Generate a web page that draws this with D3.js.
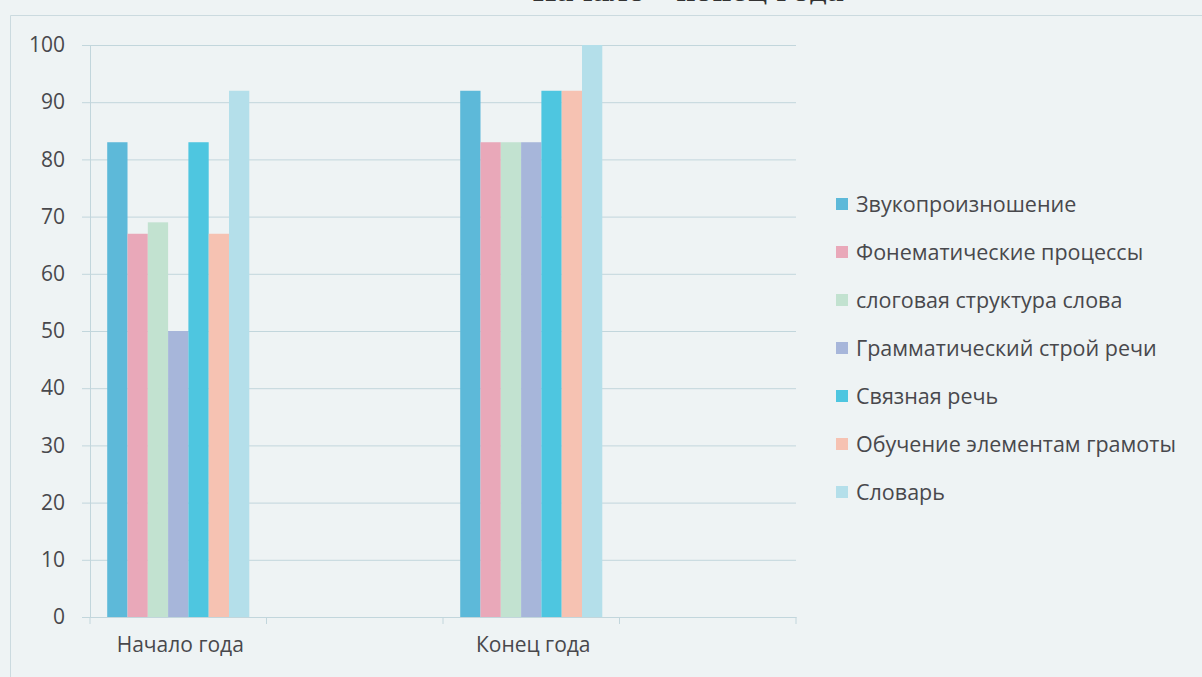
<!DOCTYPE html>
<html><head><meta charset="utf-8">
<script src="https://cdn.jsdelivr.net/npm/d3@7"></script>
<style>
html,body{margin:0;padding:0;background:#eef3f4;}
svg{display:block;}
</style></head>
<body>
<svg id="chart" width="1202" height="677"></svg>
<script>
const categories = ["Начало года", "", "Конец года", ""];
const seriesNames = ["Звукопроизношение", "Фонематические процессы", "слоговая структура слова",
  "Грамматический строй речи", "Связная речь", "Обучение элементам грамоты", "Словарь"];
const startValues = [83, 67, 69, 50, 83, 67, 92];
const endValues = [92, 83, 83, 83, 92, 92, 100];
const colors = ["#5db9d9", "#e9a8b9", "#c2e2d0", "#a7b6da", "#4ec6e0", "#f6c2b2", "#b4dfea"];
const yTicks = [0, 10, 20, 30, 40, 50, 60, 70, 80, 90, 100];
const titleText = "Начало – конец года";

const valuesByCategory = [startValues, null, endValues, null];

const svg = d3.select("#chart");
const font = "'Open Sans', 'Noto Sans', sans-serif";
const textColor = "#48484c";

// chart frame
svg.append("path").attr("d", "M10.5,677 L10.5,15.5 L1202,15.5")
  .attr("fill", "none").attr("stroke", "#cbdadf").attr("stroke-width", 1);

// title (cut off at top in the reference)
svg.append("text").attr("x", 688).attr("y", 1).attr("text-anchor", "middle")
  .attr("font-family", "'DejaVu Serif', serif").attr("font-weight", "bold")
  .attr("font-size", 26).attr("fill", "#333").text(titleText);

const plot = {left: 90, right: 796, top: 45, bottom: 617};

const x0 = d3.scaleBand().domain(d3.range(categories.length))
  .range([plot.left, plot.right]).paddingInner(0).paddingOuter(0);
const x1 = d3.scaleBand().domain(d3.range(seriesNames.length))
  .range([0, x0.bandwidth() * 0.805]).padding(0);
const y = d3.scaleLinear().domain([0, 100]).range([plot.bottom, plot.top]);

// gridlines + left ticks
const yAxis = d3.axisLeft(y).tickValues(yTicks).tickSize(8).tickPadding(17);
const gy = svg.append("g").attr("transform", `translate(${plot.left},0)`).call(yAxis);
gy.select(".domain").attr("stroke", "#c2d6dc");
gy.selectAll(".tick line").attr("stroke", "#c2d6dc");
gy.selectAll(".tick text").attr("font-family", font).attr("font-size", 21).attr("font-weight", 500)
  .attr("fill", textColor);
gy.selectAll(".tick").append("line").attr("x1", 0).attr("x2", plot.right - plot.left)
  .attr("stroke", "#c2d6dc").attr("stroke-width", 1);

// bars
const groups = svg.append("g").selectAll("g")
  .data(d3.range(categories.length).filter(i => valuesByCategory[i]))
  .join("g")
  .attr("transform", i => `translate(${x0(i) + (x0.bandwidth() - x1.range()[1]) / 2},0)`);
groups.selectAll("rect")
  .data(i => valuesByCategory[i].map((v, s) => ({v, s})))
  .join("rect")
  .attr("x", d => x1(d.s))
  .attr("width", x1.bandwidth())
  .attr("y", d => y(d.v))
  .attr("height", d => y(0) - y(d.v))
  .attr("fill", d => colors[d.s]);

// x axis
const xAxis = d3.axisBottom(x0).tickFormat(i => categories[i]).tickSize(0).tickPadding(20);
const gx = svg.append("g").attr("transform", `translate(0,${plot.bottom})`).call(xAxis);
gx.select(".domain").attr("stroke", "#c2d6dc");
gx.selectAll(".tick text").attr("font-family", font).attr("font-size", 21).attr("font-weight", 500)
  .attr("fill", textColor).attr("dx", 2);
// category boundary ticks
gx.selectAll(".bound").data(d3.range(categories.length + 1)).join("line")
  .attr("class", "bound")
  .attr("x1", i => i < categories.length ? x0(i) : plot.right)
  .attr("x2", i => i < categories.length ? x0(i) : plot.right)
  .attr("y1", 0).attr("y2", 7).attr("stroke", "#c2d6dc");

// legend
const legend = svg.append("g").attr("transform", "translate(836,204)");
const li = legend.selectAll("g").data(seriesNames).join("g")
  .attr("transform", (d, i) => `translate(0,${i * 48})`);
li.append("rect").attr("x", 0).attr("y", -6).attr("width", 12).attr("height", 12)
  .attr("fill", (d, i) => colors[i]);
li.append("text").attr("x", 20).attr("y", 0).attr("dy", "0.35em")
  .attr("font-family", font).attr("font-size", 21.5).attr("font-weight", 500)
  .attr("fill", textColor).text(d => d);
</script>
</body></html>
